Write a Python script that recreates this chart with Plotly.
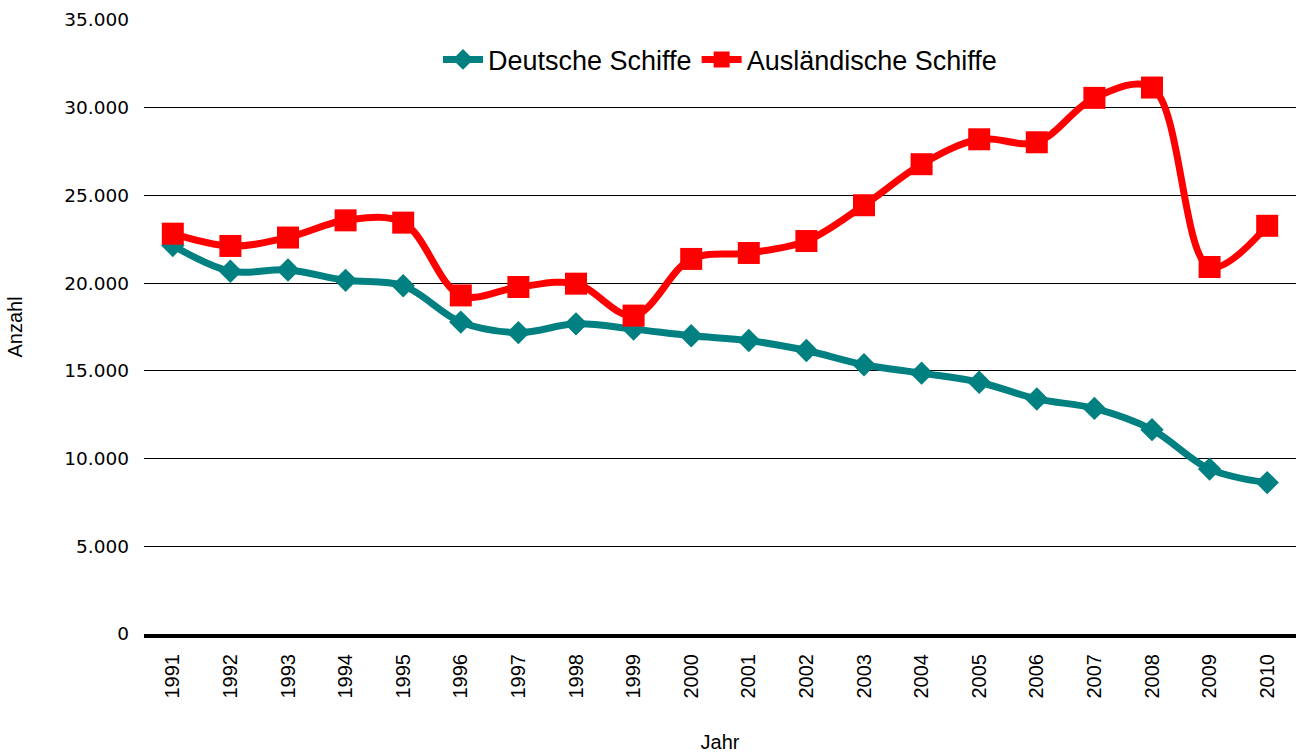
import plotly.graph_objects as go

# Schiffsanläufe nach Flagge, 1991-2010
jahre = [str(j) for j in range(1991, 2011)]
deutsche_schiffe = [22150, 20680, 20750, 20160, 19850, 17780, 17180, 17680, 17380, 17000,
                    16730, 16160, 15350, 14870, 14350, 13400, 12860, 11650, 9400, 8630]
auslaendische_schiffe = [22820, 22120, 22600, 23580, 23450, 19300, 19780, 19970, 18150, 21380,
                         21720, 22400, 24440, 26780, 28200, 28030, 30560, 31150, 20920, 23270]
y_ticks = [0, 5000, 10000, 15000, 20000, 25000, 30000, 35000]
y_tick_text = ["0", "5.000", "10.000", "15.000", "20.000", "25.000", "30.000", "35.000"]

TEAL = "#008080"
RED = "#FF0000"

fig = go.Figure()
fig.add_trace(go.Scatter(
    x=jahre, y=deutsche_schiffe, name="Deutsche Schiffe",
    mode="lines+markers",
    line=dict(color=TEAL, width=7, shape="spline", smoothing=1),
    marker=dict(symbol="diamond", size=18, color=TEAL),
))
fig.add_trace(go.Scatter(
    x=jahre, y=auslaendische_schiffe, name="Ausländische Schiffe",
    mode="lines+markers",
    line=dict(color=RED, width=7, shape="spline", smoothing=1),
    marker=dict(symbol="square", size=22, color=RED),
))

fig.update_layout(
    width=1297, height=753,
    margin=dict(l=144, r=1, t=20, b=119),
    paper_bgcolor="white", plot_bgcolor="white",
    showlegend=True,
    legend=dict(
        orientation="h", x=0.5, xanchor="center", y=0.935, yanchor="middle",
        font=dict(family="Liberation Sans", size=27, color="black"),
        bgcolor="rgba(0,0,0,0)", itemwidth=40, tracegroupgap=0,
    ),
    xaxis=dict(
        type="category", range=[-0.5, 19.5],
        showgrid=False, zeroline=False,
        showline=True, linecolor="black", linewidth=4,
        ticks="", tickangle=-90,
        tickfont=dict(family="Liberation Sans", size=20, color="black"),
        ticklabelstandoff=8,
        title=dict(text="Jahr", font=dict(family="Liberation Sans", size=20, color="black"),
                   standoff=38),
    ),
    yaxis=dict(
        range=[0, 35000], tickvals=y_ticks, ticktext=y_tick_text,
        showgrid=True, gridcolor="black", gridwidth=1,
        zeroline=False, showline=False, ticks="",
        tickfont=dict(family="DejaVu Sans", size=18.5, color="black"),
        ticklabelstandoff=14,
        title=dict(text="Anzahl", font=dict(family="Liberation Sans", size=20, color="black"),
                   standoff=36),
    ),
)

fig.write_html("out.html")
